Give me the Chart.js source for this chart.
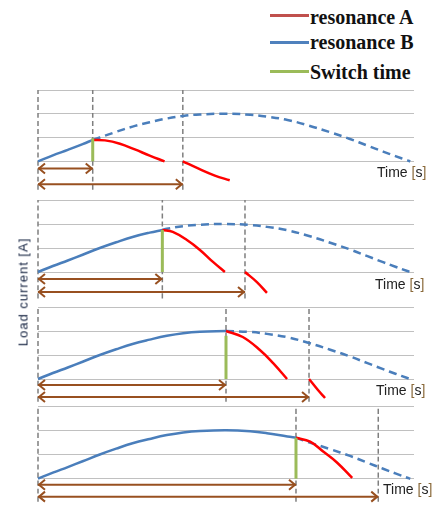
<!DOCTYPE html>
<html>
<head>
<meta charset="utf-8">
<script src="https://cdn.jsdelivr.net/npm/chart.js@4.4.1/dist/chart.umd.min.js"></script>
<style>
  html, body { margin: 0; padding: 0; background: #fff; }
  #wrap { position: relative; width: 436px; height: 505px; overflow: hidden; background: #fff; }
  #wrap canvas { position: absolute; }
  .legline { position: absolute; left: 270px; width: 39px; height: 3px; }
  .legtxt { position: absolute; left: 310px; font: bold 20px "Liberation Serif", serif; color: #111; line-height: 22px; white-space: nowrap; }
  .time { position: absolute; font: 14px "Liberation Sans", sans-serif; color: #222; line-height: 16px; white-space: nowrap; }
  .time b { font-weight: normal; color: #8a6a3a; }
  #ylab { position: absolute; left: 23px; top: 292px; transform: translate(-50%, -50%) rotate(-90deg);
          font: 13px "Liberation Sans", sans-serif; letter-spacing: 1px; color: #13213f; white-space: nowrap; }
</style>
</head>
<body>
<div id="wrap">
  <div class="legline" style="top:14px;background:#C0504D"></div>
  <div class="legline" style="top:41px;background:#4F81BD"></div>
  <div class="legline" style="top:70px;background:#9BBB59"></div>
  <div class="legtxt" style="top:6px">resonance A</div>
  <div class="legtxt" style="top:31px">resonance B</div>
  <div class="legtxt" style="top:61px">Switch time</div>
  <div id="ylab">Load current [A]</div>
</div>
<script>
// resonance B (same waveform in every panel), time in arbitrary units
const blueT = [0, 0.4, 0.8, 1.2, 1.66, 2.1, 2.54, 3.0, 3.46, 3.9, 4.35, 5.05, 5.7, 6.15, 6.7, 7.28, 7.85, 8.38, 8.85, 9.27, 9.6, 9.92, 10];
const blueI = [0, 0.25, 0.48, 0.72, 1.0, 1.24, 1.46, 1.64, 1.8, 1.91, 1.97, 2.0, 1.96, 1.88, 1.74, 1.5, 1.22, 0.94, 0.66, 0.41, 0.22, 0.04, 0];

// switch moment per panel
const switchT = [1.47, 3.34, 5.05, 6.93];
const switchI = [0.9, 1.75, 2.0, 1.69];
const greenTop = [0.97, 1.75, 1.8, 1.69];
const secondT = [3.89, 5.56, 7.28, 9.14];

// resonance A after the switch
const redT = [
  [1.47, 1.8, 2.2, 2.6, 3.0, 3.4],
  [3.34, 3.62, 4.0, 4.35, 4.70, 5.02],
  [5.05, 5.50, 5.96, 6.31, 6.69],
  [6.93, 7.31, 7.66, 8.03, 8.44]
];
const redI = [
  [0.9, 0.88, 0.74, 0.5, 0.24, 0],
  [1.75, 1.67, 1.33, 0.92, 0.42, 0],
  [2.0, 1.75, 1.21, 0.67, 0],
  [1.69, 1.53, 1.12, 0.67, 0.03]
];
// second red piece starting at the second dashed line
const redTailT = [[3.89, 4.3, 4.75, 5.15], [5.56, 5.88, 6.15], [7.28, 7.52, 7.71], []];
const redTailI = [[0, -0.3, -0.6, -0.80], [0, -0.42, -0.87], [0, -0.46, -0.79], []];

// arrows and dashed markers below the axis
const arrowShortY = [-0.3, -0.29, -0.25, -0.25];
const arrowLongY = [-0.97, -0.83, -0.75, -0.74];
const dashBottom = [-1.2, -1.1, -0.95, -0.95];
const gridLevels = [0, 1, 2, 3];
const timeLabels = ['Time', 'Time', 'Time', 'Time'];

// layout
const panelTop = [90, 200, 307, 406];
const panelZero = [161, 272, 379, 479];
const timePos = [[377, 164], [375, 276], [376, 382], [383, 481]];
const yMin = -1.25, yMax = 3, xMax = 10.1;
const padT = 6, padB = 6, padL = 8, padR = 8;

const BLUE = '#4A7EBB', RED = '#FF0000', GREEN = '#9BBB59', GRAY = '#7F7F7F', BROWN = '#985020';

const arrowHeads = {
  id: 'arrowHeads',
  afterDatasetsDraw(chart) {
    const ctx = chart.ctx;
    chart.data.datasets.forEach((ds, i) => {
      if (!ds.arrow) return;
      const pts = chart.getDatasetMeta(i).data;
      const a = pts[0], b = pts[pts.length - 1];
      ctx.save();
      ctx.strokeStyle = ds.borderColor;
      ctx.lineWidth = 2;
      ctx.beginPath();
      ctx.moveTo(a.x + 7, a.y - 5); ctx.lineTo(a.x + 1, a.y); ctx.lineTo(a.x + 7, a.y + 5);
      ctx.moveTo(b.x - 7, b.y - 5); ctx.lineTo(b.x - 1, b.y); ctx.lineTo(b.x - 7, b.y + 5);
      ctx.stroke();
      ctx.restore();
    });
  }
};

const pts = (xs, ys) => xs.map((x, i) => ({ x: x, y: ys[i] }));

const wrap = document.getElementById('wrap');

for (let p = 0; p < 4; p++) {
  const unit = (panelZero[p] - panelTop[p]) / 3;
  const h = Math.round(unit * (yMax - yMin)) + padT + padB;
  const cv = document.createElement('canvas');
  cv.width = 392; cv.height = h;
  cv.style.left = '30px';
  cv.style.top = (panelTop[p] - padT) + 'px';
  wrap.insertBefore(cv, wrap.firstChild);

  const solid = [], dashed = [];
  blueT.forEach((t, i) => {
    if (t < switchT[p]) solid.push({ x: t, y: blueI[i] });
    if (t > switchT[p]) dashed.push({ x: t, y: blueI[i] });
  });
  solid.push({ x: switchT[p], y: switchI[p] });
  dashed.unshift({ x: switchT[p], y: switchI[p] });

  const line = (data, color, width, extra) => Object.assign({
    data: data, borderColor: color, borderWidth: width, pointRadius: 0,
    fill: false, tension: 0.4, clip: 6
  }, extra || {});

  const datasets = [
    line([{ x: switchT[p], y: 0 }, { x: switchT[p], y: greenTop[p] }], GREEN, 3),
    line(pts(redT[p], redI[p]), RED, 2.5),
    line(pts(redTailT[p], redTailI[p]), RED, 2.5),
    line(solid, BLUE, 2.5),
    line(dashed, BLUE, 2.5, { borderDash: [8, 5] }),
    line([{ x: 0, y: arrowShortY[p] }, { x: switchT[p], y: arrowShortY[p] }], BROWN, 2, { arrow: true }),
    line([{ x: 0, y: arrowLongY[p] }, { x: secondT[p], y: arrowLongY[p] }], BROWN, 2, { arrow: true }),
    line([{ x: 0, y: dashBottom[p] }, { x: 0, y: yMax }], GRAY, 1.5, { borderDash: [5, 3] }),
    line([{ x: switchT[p], y: dashBottom[p] }, { x: switchT[p], y: yMax }], GRAY, 1.5, { borderDash: [5, 3] }),
    line([{ x: secondT[p], y: dashBottom[p] }, { x: secondT[p], y: yMax }], GRAY, 1.5, { borderDash: [5, 3] })
  ];

  new Chart(cv.getContext('2d'), {
    type: 'line',
    data: { datasets: datasets },
    options: {
      responsive: false,
      animation: false,
      events: [],
      layout: { padding: { top: padT, bottom: padB, left: padL, right: padR } },
      plugins: { legend: { display: false }, tooltip: { enabled: false } },
      scales: {
        x: { type: 'linear', min: 0, max: xMax, display: false },
        y: {
          min: yMin, max: yMax,
          afterBuildTicks: (s) => { s.ticks = gridLevels.map(v => ({ value: v })); },
          ticks: { display: false },
          border: { display: false },
          grid: { color: '#C0C0C0', lineWidth: 1, drawTicks: false }
        }
      }
    },
    plugins: [arrowHeads]
  });

  const tl = document.createElement('div');
  tl.className = 'time';
  tl.style.left = timePos[p][0] + 'px';
  tl.style.top = timePos[p][1] + 'px';
  tl.innerHTML = timeLabels[p] + ' <b>[</b>s<b>]</b>';
  wrap.appendChild(tl);
}
</script>
</body>
</html>
